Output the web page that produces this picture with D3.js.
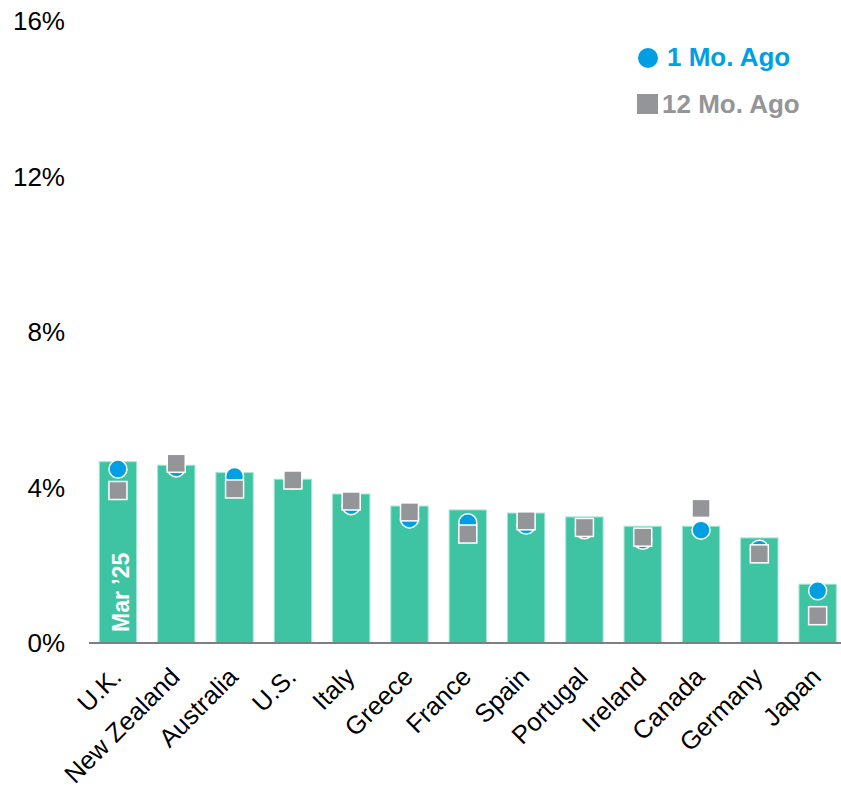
<!DOCTYPE html>
<html>
<head>
<meta charset="utf-8">
<script src="https://cdn.jsdelivr.net/npm/d3@7"></script>
<style>
  html, body { margin: 0; padding: 0; background: #fff; }
  svg { display: block; }
  text { font-family: "Liberation Sans", Arial, sans-serif; }
</style>
</head>
<body>
<svg id="chart" width="841" height="788"></svg>
<script>
const categories = ["U.K.", "New Zealand", "Australia", "U.S.", "Italy", "Greece", "France", "Spain", "Portugal", "Ireland", "Canada", "Germany", "Japan"];
const current = [4.65, 4.56, 4.37, 4.20, 3.82, 3.51, 3.41, 3.33, 3.23, 2.99, 2.99, 2.69, 1.50];
const oneMoAgo = [4.46, 4.49, 4.27, 4.18, 3.52, 3.18, 3.08, 3.02, 2.90, 2.63, 2.89, 2.40, 1.33];
const twelveMoAgo = [3.91, 4.61, 3.95, 4.18, 3.64, 3.36, 2.79, 3.13, 2.96, 2.71, 3.45, 2.28, 0.69];
const yTicks = [0, 4, 8, 12, 16];
const barLabel = "Mar \u201925";
const legendLabels = ["1 Mo. Ago", "12 Mo. Ago"];

const svg = d3.select("#chart");
const x = d3.scaleBand().domain(categories).range([88.8, 846.8]).paddingInner(0.36).paddingOuter(0.18);
const y = d3.scaleLinear().domain([0, 16]).range([642.5, 20.5]);

const gBars = svg.append("g");
const gAxis = svg.append("g");
const gCircles = svg.append("g");
const gSquares = svg.append("g");

// Bars
gBars.selectAll("rect").data(categories).join("rect")
  .attr("x", d => x(d))
  .attr("y", (d, i) => y(current[i]))
  .attr("width", x.bandwidth())
  .attr("height", (d, i) => y(0) - y(current[i]))
  .attr("fill", "#3ec4a3")
  .attr("stroke", "#a6e4d4")
  .attr("stroke-width", 1);

// Baseline axis
gAxis.append("line")
  .attr("x1", 89).attr("x2", 841)
  .attr("y1", y(0) + 0.5).attr("y2", y(0) + 0.5)
  .attr("stroke", "#7f7f7f").attr("stroke-width", 2);

// Y axis tick labels
const yAxis = d3.axisLeft(y).tickValues(yTicks).tickFormat(d => d + "%").tickSize(0).tickPadding(0);
const ya = svg.append("g").attr("transform", "translate(65,0)").call(yAxis);
ya.select(".domain").remove();
ya.selectAll("text").attr("font-size", 26).attr("fill", "#000")
  .attr("font-family", "'Liberation Sans', Arial, sans-serif").attr("dy", "0.36em");

// X axis labels
const xAxis = d3.axisBottom(x).tickSize(0).tickPadding(0);
const xa = svg.append("g").attr("transform", `translate(0,${y(0)})`).call(xAxis);
xa.select(".domain").remove();
xa.selectAll("text")
  .attr("font-size", 25.5).attr("fill", "#000")
  .attr("font-family", "'Liberation Sans', Arial, sans-serif")
  .attr("text-anchor", "end")
  .attr("dy", null).attr("y", 0).attr("x", 0)
  .attr("transform", "translate(5,36) rotate(-45)");

// One month ago circles
gCircles.selectAll("circle").data(categories).join("circle")
  .attr("cx", d => x(d) + x.bandwidth() / 2)
  .attr("cy", (d, i) => y(oneMoAgo[i]))
  .attr("r", 9)
  .attr("fill", "#009fe3").attr("stroke", "#fff").attr("stroke-width", 1.5);

// Twelve month ago squares
const sq = 18;
gSquares.selectAll("rect").data(categories).join("rect")
  .attr("x", d => x(d) + x.bandwidth() / 2 - sq / 2)
  .attr("y", (d, i) => y(twelveMoAgo[i]) - sq / 2)
  .attr("width", sq).attr("height", sq)
  .attr("fill", "#939598").attr("stroke", "#fff").attr("stroke-width", 1.5);

// Bar label
const uk = categories[0];
svg.append("text")
  .attr("transform", `translate(${x(uk) + x.bandwidth() / 2 + 11},632) rotate(-90)`)
  .attr("fill", "#fff").attr("font-weight", "bold").attr("font-size", 23)
  .text(barLabel);

// Legend
const leg = svg.append("g");
leg.append("circle").attr("cx", 648).attr("cy", 58).attr("r", 10).attr("fill", "#009fe3");
leg.append("text").attr("x", 667).attr("y", 66).attr("font-size", 26).attr("font-weight", "bold")
  .attr("fill", "#009fe3").text(legendLabels[0]);
leg.append("rect").attr("x", 637).attr("y", 94).attr("width", 21).attr("height", 20).attr("fill", "#939598");
leg.append("text").attr("x", 662).attr("y", 113).attr("font-size", 26).attr("font-weight", "bold")
  .attr("fill", "#939598").text(legendLabels[1]);
</script>
</body>
</html>
